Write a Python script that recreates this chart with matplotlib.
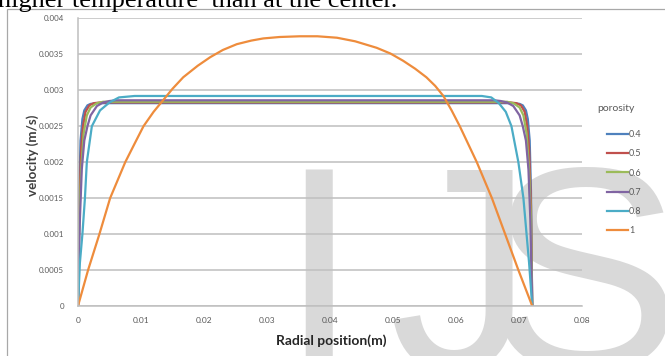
import matplotlib
matplotlib.use("Agg")
import matplotlib.pyplot as plt
from matplotlib.patches import Rectangle

# radial velocity profiles for several porosities (m, m/s)
x_04 = [0, 0.0002, 0.0004, 0.0007, 0.001, 0.0015, 0.002, 0.003, 0.036, 0.0691, 0.0701, 0.0706, 0.0711, 0.0714, 0.0717, 0.0719, 0.0721]
v_04 = [0, 0.0016, 0.0023, 0.0026, 0.00272, 0.00279, 0.00281, 0.00282, 0.00282, 0.00282, 0.00281, 0.00279, 0.00272, 0.0026, 0.0023, 0.0016, 0]

x_05 = [0, 0.0002, 0.0005, 0.0008, 0.0012, 0.0018, 0.0025, 0.0035, 0.036, 0.0686, 0.0696, 0.0703, 0.0709, 0.0713, 0.0716, 0.0719, 0.0721]
v_05 = [0, 0.0014, 0.0022, 0.0025, 0.0027, 0.00279, 0.00282, 0.00283, 0.00283, 0.00283, 0.00282, 0.00279, 0.0027, 0.0025, 0.0022, 0.0014, 0]

x_06 = [0, 0.0002, 0.0005, 0.0009, 0.0014, 0.002, 0.003, 0.004, 0.036, 0.0681, 0.0691, 0.0701, 0.0707, 0.0712, 0.0716, 0.0719, 0.0721]
v_06 = [0, 0.0012, 0.0019, 0.0024, 0.00265, 0.00276, 0.00282, 0.00284, 0.00284, 0.00284, 0.00282, 0.00276, 0.00265, 0.0024, 0.0019, 0.0012, 0]

x_07 = [0, 0.0003, 0.0006, 0.001, 0.0015, 0.002, 0.003, 0.004, 0.005, 0.006, 0.036, 0.0661, 0.0671, 0.0681, 0.0691, 0.0701, 0.0706, 0.0711, 0.0715, 0.0718, 0.0721]
v_07 = [0, 0.0012, 0.0019, 0.0023, 0.0025, 0.00265, 0.00278, 0.00283, 0.00285, 0.00286, 0.00286, 0.00286, 0.00285, 0.00283, 0.00278, 0.00265, 0.0025, 0.0023, 0.0019, 0.0012, 0]

x_08 = [0, 0.0003, 0.0007, 0.0011, 0.0014, 0.0022, 0.0035, 0.005, 0.0065, 0.009, 0.036, 0.0641, 0.0656, 0.0668, 0.0679, 0.0688, 0.0699, 0.0707, 0.0712, 0.0716, 0.0721]
v_08 = [0, 0.0006, 0.001, 0.0015, 0.002, 0.0025, 0.00272, 0.00283, 0.0029, 0.00292, 0.00292, 0.00292, 0.0029, 0.00282, 0.0027, 0.0025, 0.002, 0.0015, 0.001, 0.0006, 0]

x_10 = [0, 0.0016, 0.0034, 0.0051, 0.0075, 0.009, 0.0104, 0.012, 0.0135, 0.015, 0.0167, 0.019, 0.021, 0.023, 0.0252, 0.0275,
        0.0294, 0.032, 0.0352, 0.038, 0.0411, 0.044, 0.0474, 0.0496, 0.0516, 0.0535, 0.0553, 0.0567, 0.058, 0.0593, 0.0606,
        0.0633, 0.0657, 0.0678, 0.0699, 0.0721]
v_10 = [0, 0.0005, 0.001, 0.0015, 0.002, 0.00226, 0.0025, 0.0027, 0.00286, 0.00302, 0.00318, 0.00334, 0.00346, 0.00356, 0.00364, 0.00369,
        0.00372, 0.00374, 0.00375, 0.00375, 0.00373, 0.00368, 0.00359, 0.00351, 0.00341, 0.0033, 0.00318, 0.00306, 0.00292, 0.00272, 0.0025,
        0.002, 0.0015, 0.001, 0.0005, 0]

porosity_labels = ["0.4", "0.5", "0.6", "0.7", "0.8", "1"]
series_x = [x_04, x_05, x_06, x_07, x_08, x_10]
series_v = [v_04, v_05, v_06, v_07, v_08, v_10]
colours = ["#4F81BD", "#C0504D", "#9BBB59", "#8064A2", "#4BACC6", "#EE8C3C"]

x_ticks = [0, 0.01, 0.02, 0.03, 0.04, 0.05, 0.06, 0.07, 0.08]
x_ticklabels = ["0", "0.01", "0.02", "0.03", "0.04", "0.05", "0.06", "0.07", "0.08"]
y_ticks = [0, 0.0005, 0.001, 0.0015, 0.002, 0.0025, 0.003, 0.0035, 0.004]
y_ticklabels = ["0", "0.0005", "0.001", "0.0015", "0.002", "0.0025", "0.003", "0.0035", "0.004"]

W, H = 665, 356
fig = plt.figure(figsize=(W / 100, H / 100), dpi=100)
fig.patch.set_facecolor("white")


def fx(px):
    return px / W


def fy(py):
    return 1 - py / H


# watermark letters behind the chart
wm_size = 290 * 0.72
for letter, left in [("I", 278), ("J", 388), ("S", 488)]:
    fig.text(fx(left), fy(369), letter, fontsize=wm_size, family="Liberation Sans",
             color="#d9d9d9", va="baseline", ha="left", zorder=0)

# tail of the preceding paragraph
fig.text(fx(-2), fy(7), "higher temperature  than at the center.", fontsize=19,
         family="Liberation Serif", color="black", va="baseline", ha="left")

# chart frame
fig.patches.append(Rectangle((fx(7), -0.2), 2, fy(9) + 0.2, transform=fig.transFigure,
                             facecolor="none", edgecolor="#a8a8a8", lw=0.9, zorder=1))

ax = fig.add_axes([fx(78), fy(306), fx(582) - fx(78), fy(18.3) - fy(306)])
ax.set_facecolor("none")
ax.set_zorder(2)

for xs, vs, c, lab in zip(series_x, series_v, colours, porosity_labels):
    ax.plot(xs, vs, color=c, lw=1.6, label=lab, solid_joinstyle="round")

ax.set_xlim(0, 0.08)
ax.set_ylim(0, 0.004)
ax.set_xticks(x_ticks)
ax.set_xticklabels(x_ticklabels)
ax.set_yticks(y_ticks)
ax.set_yticklabels(y_ticklabels)
ax.tick_params(length=0, labelsize=5.7, labelcolor="#595959", pad=10)
ax.tick_params(axis="x", labelsize=6, pad=8)
for lbl in ax.get_xticklabels() + ax.get_yticklabels():
    lbl.set_family("Lato")

ax.grid(axis="y", color="#bfbfbf", lw=1.1)
ax.set_axisbelow(True)
for side in ["top", "right"]:
    ax.spines[side].set_visible(False)
for side in ["left", "bottom"]:
    ax.spines[side].set_color("#bfbfbf")
    ax.spines[side].set_linewidth(1.1)

fig.text(fx(33), fy(155), "velocity (m/s)", rotation=90, fontsize=9.6, fontweight="bold",
         family="Lato", color="#404040", ha="center", va="center")
fig.text(fx(331), fy(341), "Radial position(m)", fontsize=10, fontweight="bold",
         family="Lato", color="#262626", ha="center", va="center")

# legend
fig.text(fx(597), fy(108), "porosity", fontsize=7.5, family="Lato", color="#595959",
         ha="left", va="center")
leg = ax.legend(loc="upper left", bbox_to_anchor=(fx(607), fy(130)),
                bbox_transform=fig.transFigure, frameon=False, fontsize=6.5,
                handlelength=2.3, handletextpad=0.15, labelspacing=1.14,
                borderpad=0, borderaxespad=0)
for t in leg.get_texts():
    t.set_color("#595959")
    t.set_family("Lato")

fig.savefig("out.png", dpi=100)
